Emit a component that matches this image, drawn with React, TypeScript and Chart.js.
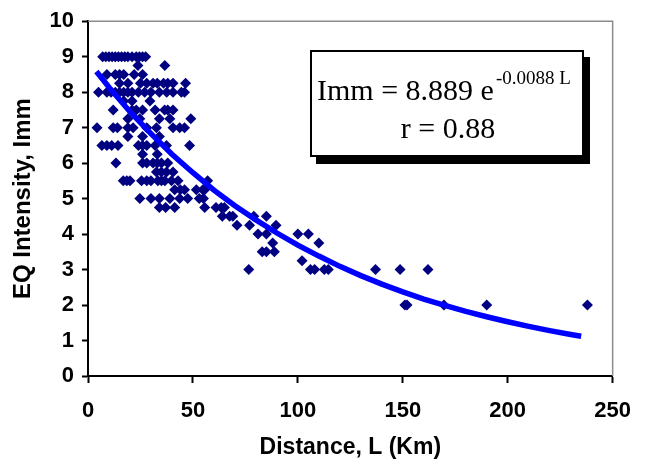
import React, { useEffect, useRef } from "react";
import { Chart, registerables } from "chart.js";

Chart.register(...registerables);

// Observed data: distance L (km) and intensity Imm
const distanceKm = [
  7, 8.5, 10, 11.5, 13, 14.5, 16, 17.5, 19, 21, 23, 24.5, 26, 27.5,
  23.8, 36.6,
  9, 13, 15, 17, 22, 26,
  15, 19, 25, 28, 31, 33, 36, 38, 40.5, 46.5,
  5, 9, 11, 13, 15, 17, 19, 21, 24, 27, 30, 34, 37.5, 40.5, 44.5, 46,
  17, 21, 29.5,
  12, 21, 23, 26, 32, 36.5, 38, 40.5,
  19, 24.7, 34, 39, 49,
  4.3, 12, 14, 19, 21.5, 28, 32.6, 40.5, 43.7, 46,
  19, 26, 34,
  6.6, 9, 11.3, 14.3, 24, 26, 28, 32, 37.4, 48.4,
  26, 33,
  13.3, 26, 28, 31, 33, 35, 38,
  32.6, 35, 37.4, 40.5,
  16.8, 18.5, 20, 25.5, 28, 30, 33.3, 35, 36.6, 39.8, 42.9, 57,
  41.3, 44, 46, 51.6, 54.7, 55.6,
  24.7, 30, 34, 39, 43.7, 47.5, 53, 55,
  34, 37, 41.3, 55.6, 61, 63.5, 65,
  64, 67.5, 69, 79, 85,
  71, 77, 89.6,
  81, 85, 100, 105,
  88, 110,
  83, 85, 88.8,
  102,
  76.6, 106, 108, 112.6, 114.5, 137, 148.7, 162,
  151, 152, 169.6, 190, 238,
];

const intensityImm = [
  9, 9, 9, 9, 9, 9, 9, 9, 9, 9, 9, 9, 9, 9,
  8.75, 8.75,
  8.5, 8.5, 8.5, 8.5, 8.5, 8.5,
  8.25, 8.25, 8.25, 8.25, 8.25, 8.25, 8.25, 8.25, 8.25, 8.25,
  8, 8, 8, 8, 8, 8, 8, 8, 8, 8, 8, 8, 8, 8, 8, 8,
  7.75, 7.75, 7.75,
  7.5, 7.5, 7.5, 7.5, 7.5, 7.5, 7.5, 7.5,
  7.25, 7.25, 7.25, 7.25, 7.25,
  7, 7, 7, 7, 7, 7, 7, 7, 7, 7,
  6.75, 6.75, 6.75,
  6.5, 6.5, 6.5, 6.5, 6.5, 6.5, 6.5, 6.5, 6.5, 6.5,
  6.25, 6.25,
  6, 6, 6, 6, 6, 6, 6,
  5.75, 5.75, 5.75, 5.75,
  5.5, 5.5, 5.5, 5.5, 5.5, 5.5, 5.5, 5.5, 5.5, 5.5, 5.5, 5.5,
  5.25, 5.25, 5.25, 5.25, 5.25, 5.25,
  5, 5, 5, 5, 5, 5, 5, 5,
  4.75, 4.75, 4.75, 4.75, 4.75, 4.75, 4.75,
  4.5, 4.5, 4.5, 4.5, 4.5,
  4.25, 4.25, 4.25,
  4, 4, 4, 4,
  3.75, 3.75,
  3.5, 3.5, 3.5,
  3.25,
  3, 3, 3, 3, 3, 3, 3, 3,
  2, 2, 2, 2, 2,
];

// Trend line
const trendKm = [4, 10, 20, 30, 40, 50, 60, 70, 80, 90, 100, 110, 120, 130, 140, 150, 160, 170, 180, 190, 200, 210, 220, 230, 235];
const trendImm = [8.58, 8.14, 7.45, 6.83, 6.25, 5.73, 5.24, 4.8, 4.4, 4.03, 3.69, 3.38, 3.09, 2.83, 2.59, 2.37, 2.17, 1.99, 1.82, 1.67, 1.53, 1.4, 1.28, 1.17, 1.12];

const xTitle = "Distance, L (Km)";
const yTitle = "EQ Intensity, Imm";
const eqMain = "Imm = 8.889 e";
const eqSup = "-0.0088 L";
const eqR = "r = 0.88";

const SANS = 'Arial, "Liberation Sans", sans-serif';
const SERIF = '"Times New Roman", "Liberation Serif", serif';

const framePlugin = {
  id: "frame",
  afterDraw(chart: any) {
    const { ctx, chartArea } = chart;
    const { left, top, right, bottom } = chartArea;
    ctx.save();
    ctx.strokeStyle = "#8c8c8c";
    ctx.lineWidth = 1.5;
    ctx.beginPath();
    ctx.moveTo(left, top);
    ctx.lineTo(right, top);
    ctx.lineTo(right, bottom);
    ctx.stroke();

    // equation box with shadow
    const bx = 311, by = 51, bw = 272, bh = 105;
    ctx.fillStyle = "#000";
    ctx.fillRect(bx + 5, by + 6, bw + 2, bh + 2);
    ctx.fillStyle = "#fff";
    ctx.fillRect(bx, by, bw, bh);
    ctx.strokeStyle = "#000";
    ctx.lineWidth = 2;
    ctx.strokeRect(bx, by, bw, bh);

    ctx.fillStyle = "#000";
    ctx.textBaseline = "alphabetic";
    ctx.textAlign = "left";
    ctx.font = `30px ${SERIF}`;
    ctx.fillText(eqMain, 317, 100);
    const w = ctx.measureText(eqMain).width;
    ctx.font = `19px ${SERIF}`;
    ctx.fillText(eqSup, 317 + w + 2, 84);
    ctx.font = `30px ${SERIF}`;
    ctx.textAlign = "center";
    ctx.fillText(eqR, 448, 138);
    ctx.restore();
  },
};

export default function App() {
  const ref = useRef<HTMLCanvasElement>(null);

  useEffect(() => {
    document.body.style.margin = "0";
    const scatterData = distanceKm.map((x, i) => ({ x, y: intensityImm[i] }));
    const trendData = trendKm.map((x, i) => ({ x, y: trendImm[i] }));
    const chart = new Chart(ref.current as HTMLCanvasElement, {
      type: "scatter",
      data: {
        datasets: [
          {
            label: "trend",
            data: trendData,
            showLine: true,
            borderColor: "#0000ff",
            borderWidth: 5.5,
            pointRadius: 0,
            tension: 0,
          },
          {
            label: "observed",
            data: scatterData,
            pointStyle: "rectRot",
            pointRadius: 5.5,
            backgroundColor: "#000080",
            borderColor: "#000080",
            borderWidth: 0,
          },
        ],
      },
      options: {
        animation: false,
        responsive: false,
        layout: { padding: { left: 0, right: 32, top: 19, bottom: 0 } },
        plugins: { legend: { display: false }, tooltip: { enabled: false } },
        scales: {
          x: {
            type: "linear",
            min: 0,
            max: 250,
            afterFit: (s: any) => { s.height = 88; },
            ticks: { stepSize: 50, color: "#000", font: { family: SANS, size: 22, weight: "bold" }, padding: 15 },
            grid: { drawOnChartArea: false, drawTicks: true, tickLength: 7, tickWidth: 2, tickColor: "#000" },
            border: { display: true, color: "#000", width: 2 },
            title: { display: true, text: xTitle, color: "#000", font: { family: SANS, size: 23, weight: "bold" }, padding: { top: 0, bottom: 3 } },
          },
          y: {
            type: "linear",
            min: 0,
            max: 10,
            afterFit: (s: any) => { s.width = 88; },
            ticks: { stepSize: 1, color: "#000", font: { family: SANS, size: 22, weight: "bold" }, padding: 8 },
            grid: { drawOnChartArea: false, drawTicks: true, tickLength: 6, tickWidth: 2, tickColor: "#000" },
            border: { display: true, color: "#000", width: 2 },
            title: { display: true, text: yTitle, color: "#000", font: { family: SANS, size: 24, weight: "bold" }, padding: { top: 9, bottom: 0 } },
          },
        },
      },
      plugins: [framePlugin],
    } as any);
    return () => chart.destroy();
  }, []);

  return (
    <div style={{ width: 646, height: 464, background: "#fff" }}>
      <canvas ref={ref} width={646} height={464} style={{ display: "block" }} />
    </div>
  );
}
